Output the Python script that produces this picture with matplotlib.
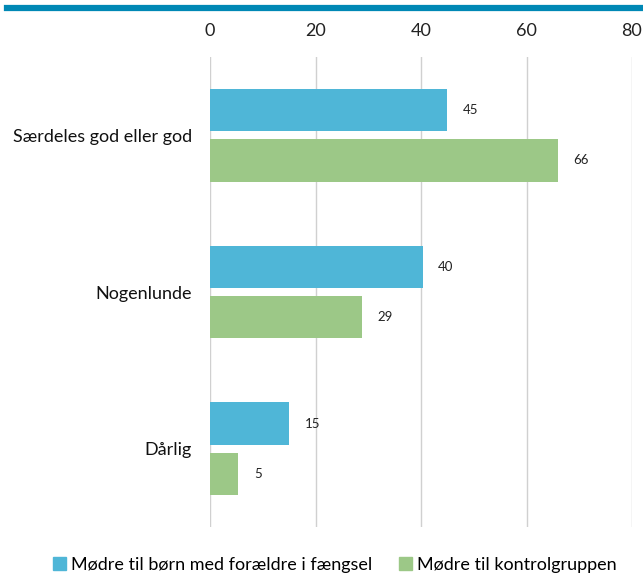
import matplotlib
matplotlib.use("Agg")
import matplotlib.pyplot as plt
from matplotlib.lines import Line2D
from matplotlib.patches import Patch
import numpy as np

plt.rcParams['font.family'] = ['Lato', 'DejaVu Sans']

categories = ["Særdeles god eller god", "Nogenlunde", "Dårlig"]
series_names = ["Mødre til børn med forældre i fængsel", "Mødre til kontrolgruppen"]
blue_vals = [45, 40.3, 15]
green_vals = [66, 28.8, 5.4]
xticks = [0, 20, 40, 60, 80]

c_blue = "#4FB6D7"
c_green = "#9CC887"

fig = plt.figure(figsize=(6.43, 5.75), dpi=100)
W, H = 643, 575
ax = fig.add_axes([210 / W, 1 - 527 / H, (632 - 210) / W, (527 - 57) / H])

y = np.arange(len(categories))
h = 0.27
off = 0.16
ax.barh(y - off, blue_vals, height=h, color=c_blue, zorder=3)
ax.barh(y + off, green_vals, height=h, color=c_green, zorder=3)

for yi, v in zip(y - off, blue_vals):
    ax.text(v + 2.9, yi, f"{v:.0f}", va='center', ha='left', fontsize=9.5, color='#222222')
for yi, v in zip(y + off, green_vals):
    ax.text(v + 2.9, yi, f"{v:.0f}", va='center', ha='left', fontsize=9.5, color='#222222')

ax.set_xlim(0, 80)
ax.set_ylim(2.5, -0.5)
ax.set_xticks(xticks)
ax.xaxis.tick_top()
ax.tick_params(axis='x', length=0, pad=13, labelsize=13, colors='#222222')
ax.set_yticks(y)
ax.set_yticklabels(categories)
ax.tick_params(axis='y', length=0, pad=13, labelsize=13, colors='#111111')
ax.grid(axis='x', color='#D0D0D0', linewidth=1, zorder=0)
for s in ax.spines.values():
    s.set_visible(False)

# top decorative line
fig.add_artist(Line2D([7 / W, 1], [1 - 8 / H, 1 - 8 / H], color='#0088B5', linewidth=4.5,
                      transform=fig.transFigure))

handles = [Patch(color=c_blue, label=series_names[0]), Patch(color=c_green, label=series_names[1])]
fig.legend(handles=handles, loc='center', bbox_to_anchor=(335 / W, 1 - 565 / H), ncol=2,
           frameon=False, fontsize=13, handlelength=0.7, handleheight=0.7, handletextpad=0.3,
           columnspacing=1.5)

fig.savefig("out.png", dpi=100)
